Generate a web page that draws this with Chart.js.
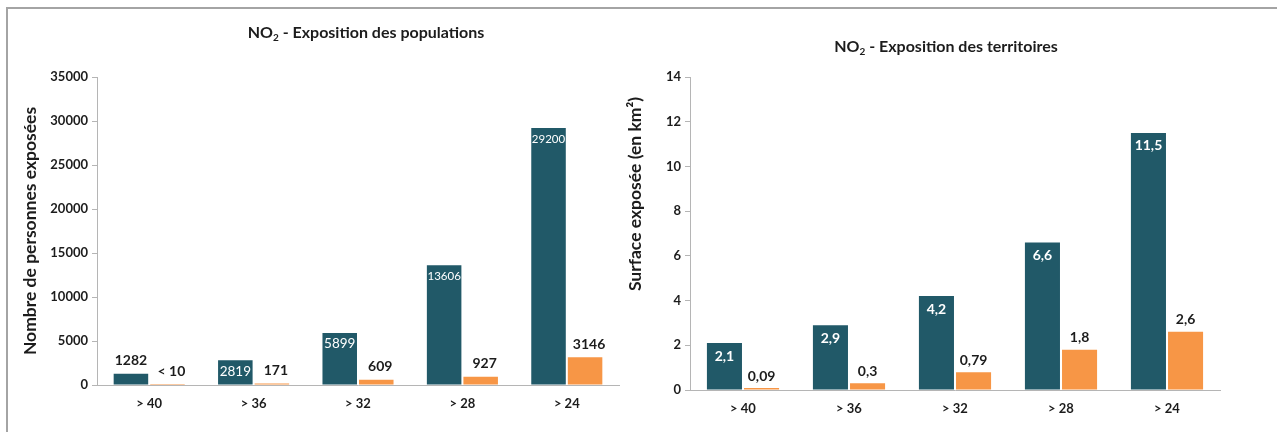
<!DOCTYPE html>
<html lang="fr">
<head>
<meta charset="utf-8">
<title>NO2 - Exposition</title>
<script src="https://cdn.jsdelivr.net/npm/chart.js@4.4.1/dist/chart.umd.min.js"></script>
<style>
  html, body { margin: 0; padding: 0; background: #ffffff; overflow: hidden; }
  #page { position: relative; width: 1277px; height: 432px; }
  #frame {
    position: absolute; left: 6px; top: 7px; width: 1300px; height: 460px;
    border-left: 2px solid #a4a4a4; border-top: 2px solid #a4a4a4;
  }
  #popChart { position: absolute; left: 0; top: 0; }
  #surfChart { position: absolute; left: 622px; top: 0; }
</style>
</head>
<body>
<div id="page">
  <div id="frame"></div>
  <canvas id="popChart" width="622" height="432"></canvas>
  <canvas id="surfChart" width="655" height="432"></canvas>
</div>
<script>
// Seuils de concentration en NO2 (µg/m³)
const categories = ['> 40', '> 36', '> 32', '> 28', '> 24'];

// Nombre de personnes exposées
const popSerie1 = [1282, 2819, 5899, 13606, 29200];
const popSerie2 = [9, 171, 609, 927, 3146];          // première valeur : < 10
const popTicks = [0, 5000, 10000, 15000, 20000, 25000, 30000, 35000];

// Surface exposée (km²)
const surfSerie1 = [2.1, 2.9, 4.2, 6.6, 11.5];
const surfSerie2 = [0.09, 0.3, 0.79, 1.8, 2.6];
const surfTicks = [0, 2, 4, 6, 8, 10, 12, 14];

const TEAL = '#215968';
const ORANGE = '#f79646';
const AXIS = '#b5b5b5';
const INK = '#1c1c1c';
const FONT = 'Lato, "Open Sans", sans-serif';

Chart.defaults.font.family = FONT;
Chart.defaults.color = INK;

// Values written on the bars: inside (white) when the bar is tall enough, otherwise above it.
const barValueLabels = {
  id: 'barValueLabels',
  afterDatasetsDraw(chart, args, opts) {
    const ctx = chart.ctx;
    chart.data.datasets.forEach((ds, i) => {
      const cfg = opts.series[i];
      const meta = chart.getDatasetMeta(i);
      meta.data.forEach((bar, j) => {
        const v = ds.data[j];
        if (v === null || v === undefined) return;
        const text = opts.format(v);
        const h = bar.base - bar.y;
        const inside = cfg.inside && h > cfg.minInside;
        let size = inside ? cfg.insideSize : cfg.outsideSize;
        const weight = inside ? cfg.insideWeight : 'bold';
        ctx.save();
        ctx.font = `${weight} ${size}px ${FONT}`;
        while (inside && ctx.measureText(text).width > bar.width && size > 8) {
          size -= 0.5;
          ctx.font = `${weight} ${size}px ${FONT}`;
        }
        ctx.fillStyle = inside ? '#ffffff' : INK;
        ctx.textAlign = 'center';
        ctx.textBaseline = 'middle';
        const y = inside ? bar.y + cfg.insideGap : bar.y - cfg.outsideGap;
        ctx.fillText(text, bar.x + (inside ? 0 : cfg.outsideShift || 0), y);
        ctx.restore();
      });
    });
  }
};

// Chart heading "NO2 - ..." with a subscript 2, and optional free-standing rotated captions.
const headings = {
  id: 'headings',
  afterDraw(chart, args, opts) {
    const ctx = chart.ctx;
    ctx.save();
    ctx.fillStyle = INK;
    ctx.textBaseline = 'alphabetic';
    ctx.textAlign = 'left';
    const t = opts.title;
    const mainFont = `bold ${t.size}px ${FONT}`;
    const subFont = `bold ${Math.round(t.size * 0.62)}px ${FONT}`;
    ctx.font = mainFont;
    const w1 = ctx.measureText('NO').width;
    const w3 = ctx.measureText(t.rest).width;
    ctx.font = subFont;
    const w2 = ctx.measureText('2').width;
    let x = t.x - (w1 + w2 + w3) / 2;
    const base = t.y + t.size * 0.36;
    ctx.font = mainFont;
    ctx.fillText('NO', x, base);
    x += w1;
    ctx.font = subFont;
    ctx.fillText('2', x, base + t.size * 0.22);
    x += w2;
    ctx.font = mainFont;
    ctx.fillText(t.rest, x, base);
    if (opts.caption) {
      const c = opts.caption;
      ctx.translate(c.x, c.y);
      ctx.rotate(-Math.PI / 2);
      ctx.textAlign = 'center';
      ctx.textBaseline = 'middle';
      ctx.font = `bold ${c.size}px ${FONT}`;
      ctx.fillText(c.text, 0, 0);
    }
    ctx.restore();
  }
};

function fixedTicks(list) {
  return (scale) => { scale.ticks = list.map(v => ({ value: v })); };
}

function frenchNumber(v) {
  return String(v).replace('.', ',');
}

function baseOptions(cfg) {
  return {
    responsive: false,
    animation: false,
    events: [],
    layout: { padding: cfg.padding },
    plugins: {
      legend: { display: false },
      tooltip: { enabled: false },
      title: { display: false },
      headings: cfg.headings,
      barValueLabels: cfg.labels
    },
    scales: {
      x: {
        afterFit: (s) => { s.height = cfg.xHeight; },
        grid: { display: true, drawOnChartArea: false, drawTicks: false, color: AXIS },
        border: { display: true, color: AXIS, width: 1 },
        ticks: { padding: 11, color: INK, font: { size: 13, weight: 'bold' } }
      },
      y: {
        min: cfg.ticks[0],
        max: cfg.ticks[cfg.ticks.length - 1],
        afterBuildTicks: fixedTicks(cfg.ticks),
        afterFit: (s) => { s.width = cfg.yWidth; },
        grid: { display: true, drawOnChartArea: false, drawTicks: true, tickLength: 5, color: AXIS, tickColor: AXIS },
        border: { display: true, color: AXIS, width: 1 },
        ticks: {
          padding: 4, color: INK, font: { size: 13, weight: 'bold' },
          callback: (v) => frenchNumber(v)
        },
        title: cfg.yTitle
      }
    }
  };
}

function barDatasets(a, b) {
  const common = { categoryPercentage: 0.70, barPercentage: 0.945, borderWidth: 0 };
  return [
    Object.assign({ label: 'Série 1', data: a, backgroundColor: TEAL }, common),
    Object.assign({ label: 'Série 2', data: b, backgroundColor: ORANGE }, common)
  ];
}

// Exposition des populations
new Chart(document.getElementById('popChart'), {
  type: 'bar',
  data: { labels: categories, datasets: barDatasets(popSerie1, popSerie2) },
  plugins: [barValueLabels, headings],
  options: baseOptions({
    padding: { left: 4, top: 77, right: 3, bottom: 0 },
    xHeight: 47,
    yWidth: 93,
    ticks: popTicks,
    yTitle: {
      display: true,
      text: 'Nombre de personnes exposées',
      color: INK,
      font: { size: 17.5, weight: 'bold' },
      padding: { top: 16, bottom: 0 }
    },
    headings: { title: { x: 366, y: 32, size: 16, rest: ' - Exposition des populations' } },
    labels: {
      format: (v) => (v < 10 ? '< 10' : String(v)),
      series: [
        { inside: true, minInside: 20, insideSize: 13.5, insideWeight: 'normal', insideGap: 11, outsideSize: 14, outsideGap: 13 },
        { inside: false, outsideSize: 14, outsideGap: 13, outsideShift: 4 }
      ]
    }
  })
});

// Exposition des territoires
new Chart(document.getElementById('surfChart'), {
  type: 'bar',
  data: { labels: categories, datasets: barDatasets(surfSerie1, surfSerie2) },
  plugins: [barValueLabels, headings],
  options: baseOptions({
    padding: { left: 4, top: 77, right: 57, bottom: 0 },
    xHeight: 42,
    yWidth: 64,
    ticks: surfTicks,
    yTitle: { display: false },
    headings: {
      title: { x: 324, y: 46, size: 16, rest: ' - Exposition des territoires' },
      caption: { x: 13, y: 194, size: 17.5, text: 'Surface exposée (en km²)' }
    },
    labels: {
      format: frenchNumber,
      series: [
        { inside: true, minInside: 20, insideSize: 14, insideWeight: 'bold', insideGap: 13, outsideSize: 14, outsideGap: 12 },
        { inside: false, outsideSize: 14, outsideGap: 12 }
      ]
    }
  })
});
</script>
</body>
</html>
